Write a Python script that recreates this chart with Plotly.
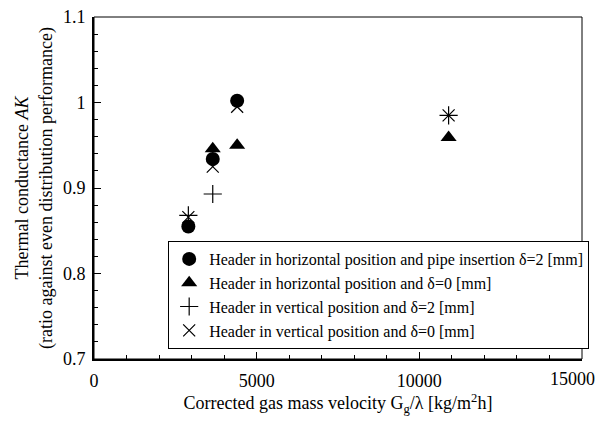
import plotly.graph_objects as go

# Data
circ_x = [2900, 3650, 4400]
circ_y = [0.855, 0.934, 1.002]

tri_x = [2900, 3650, 4400, 10900]
tri_y = [0.807, 0.946, 0.950, 0.959]

plus_x = [2900, 3650, 10900]
plus_y = [0.868, 0.893, 0.985]

xm_x = [2900, 3650, 4400, 10900]
xm_y = [0.866, 0.925, 0.995, 0.985]

x_ticks = [0, 5000, 10000, 15000]
x_ticktext = ["0", "5000", "10000", ""]
x_last_label = "15000"
y_ticks = [0.7, 0.8, 0.9, 1.0, 1.1]
y_ticktext = ["0.7", "0.8", "0.9", "1", "1.1"]

names = [
    "Header in horizontal position and pipe insertion δ=2 [mm]",
    "Header in horizontal position and δ=0 [mm]",
    "Header in vertical position and δ=2 [mm]",
    "Header in vertical position and δ=0 [mm]",
]

FONT = "Liberation Serif, Times New Roman, serif"

fig = go.Figure()
fig.add_trace(go.Scatter(x=circ_x, y=circ_y, mode="markers", name=names[0],
                         marker=dict(symbol="circle", size=14, color="black")))
fig.add_trace(go.Scatter(x=tri_x, y=tri_y, mode="markers", name=names[1],
                         marker=dict(symbol="triangle-up", size=14, color="black")))
fig.add_trace(go.Scatter(x=plus_x, y=plus_y, mode="markers", name=names[2],
                         marker=dict(symbol="cross-thin", size=13, color="black",
                                     line=dict(width=1.2, color="black"))))
fig.add_trace(go.Scatter(x=xm_x, y=xm_y, mode="markers", name=names[3],
                         marker=dict(symbol="x-thin", size=12, color="black",
                                     line=dict(width=1.2, color="black"))))

fig.update_layout(
    width=599, height=425,
    margin=dict(l=94, r=17, t=17, b=66, autoexpand=False),
    paper_bgcolor="white", plot_bgcolor="white",
    font=dict(family=FONT, size=18, color="black"),
    showlegend=True,
    legend=dict(x=0.152, y=0.345, xanchor="left", yanchor="top",
                bordercolor="black", borderwidth=1, bgcolor="white",
                font=dict(family=FONT, size=16), itemwidth=30,
                tracegroupgap=0),
    xaxis=dict(range=[0, 15000], tickvals=x_ticks, ticktext=x_ticktext,
               ticks="inside", ticklen=7, tickcolor="black", tickwidth=1,
               minor=dict(dtick=1000, ticks="inside", ticklen=4, tickcolor="black"),
               showgrid=False, zeroline=False, showline=True, linecolor="black",
               linewidth=2, tickfont=dict(family=FONT, size=18), automargin=False,
               ticklabelstandoff=4,
               title=dict(text="Corrected gas mass velocity G<sub>g</sub>/λ [kg/m<sup>2</sup>h]",
                          font=dict(family=FONT, size=18), standoff=6)),
    yaxis=dict(range=[0.7, 1.1], tickvals=y_ticks, ticktext=y_ticktext,
               ticks="inside", ticklen=7, tickcolor="black", tickwidth=1,
               minor=dict(dtick=0.02, ticks="inside", ticklen=4, tickcolor="black"),
               showgrid=False, zeroline=False, showline=True, linecolor="black",
               linewidth=2, tickfont=dict(family=FONT, size=18), automargin=False,
               ticklabelstandoff=3, ticklabeloverflow="allow",
               title=dict(text="Thermal conductance <i>AK</i><br>(ratio against even distribution performance)",
                          font=dict(family=FONT, size=18), standoff=6)),
)
# last x tick label, nudged left so it stays inside the page (as in the reference)
fig.add_annotation(x=x_ticks[-1], y=0, xref="x", yref="paper", text=x_last_label,
                   showarrow=False, xanchor="right", yanchor="top", xshift=15, yshift=-8,
                   font=dict(family=FONT, size=18, color="black"))
fig.add_shape(type="rect", xref="paper", yref="paper", x0=0, y0=0, x1=1, y1=1,
              line=dict(color="black", width=1), layer="below")

fig.write_html("out.html")
